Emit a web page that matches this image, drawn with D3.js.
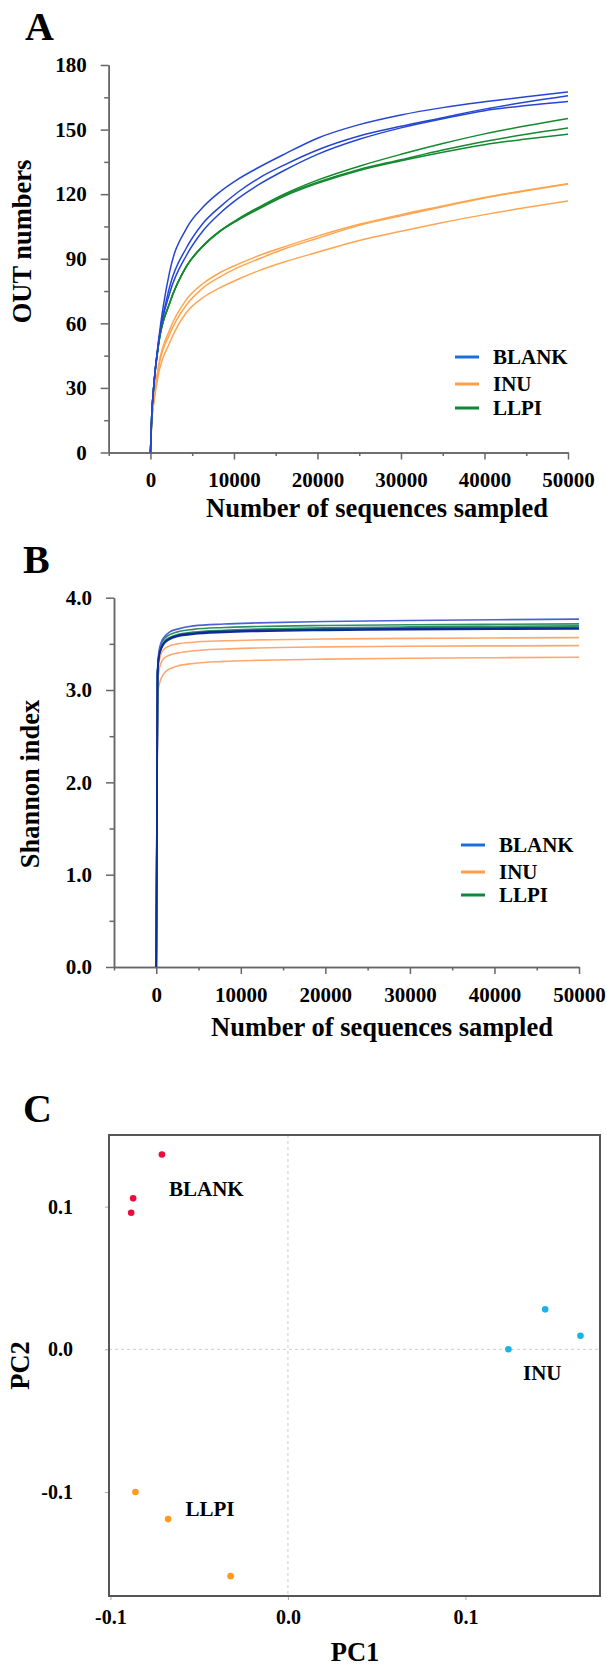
<!DOCTYPE html>
<html>
<head>
<meta charset="utf-8">
<script src="https://cdn.jsdelivr.net/npm/d3@7"></script>
<style>
  body { margin: 0; background: #fff; }
  text { font-family: "Liberation Serif", "Times New Roman", serif; font-weight: bold; fill: #000; }
</style>
</head>
<body>
<svg id="canvas" width="607" height="1667"></svg>
<script>
// ---- Données ----

let groupes = ['BLANK', 'INU', 'LLPI']

// A : nombre d'OTU selon le nombre de séquences (3 répétitions par groupe)
let sequencesA = [0, 150, 400, 1000, 2300, 4300, 6300, 8300, 10500, 13000, 16000, 20000, 25000, 30000, 35000, 40000, 45000, 50000]
let otuBlank = [
  [0, 17, 31, 53, 84, 104, 114, 121, 127, 132.5, 138.5, 146, 152.3, 156.8, 160.2, 162.9, 165.3, 167.5],
  [0, 17, 31, 52, 77, 95, 106.5, 114, 121, 127.5, 133.5, 140.5, 147, 151.5, 155.5, 159.5, 162.8, 165.7],
  [0, 17, 31, 52, 74, 91.5, 103, 111, 118, 124.5, 131, 138.5, 145.5, 150.8, 155, 158.8, 161.2, 163.1]
]
let otuInu = [
  [0, 14, 24, 41, 57, 71, 78.5, 83.5, 87.5, 91.5, 95.5, 100.5, 106, 110.5, 114.5, 118.5, 121.8, 124.9],
  [0, 14, 24, 40, 55, 68.5, 76.5, 81.5, 86, 90, 94.5, 99.5, 105.5, 110, 114.2, 118.2, 121.6, 124.7],
  [0, 14, 23, 37, 51, 65, 72, 76.5, 80.5, 84.5, 88.5, 93, 98.5, 102.8, 106.8, 110.5, 113.8, 116.8]
]
let otuLlpi = [
  [0, 17, 31, 51, 69.5, 86.5, 96, 102.8, 108.5, 114, 120, 126.5, 133, 138.5, 143.5, 148, 151.8, 155.2],
  [0, 17, 31, 51, 69.5, 86.5, 96, 102.8, 108.3, 113.5, 119.5, 125.5, 131.5, 136, 140.5, 144.5, 147.8, 150.7],
  [0, 17, 31, 51, 69.3, 86.3, 95.8, 102.6, 108, 113.2, 119, 125, 131, 135.5, 139.5, 143, 145.6, 147.9]
]

// B : indice de Shannon
let sequencesB = [0, 150, 300, 600, 1000, 1600, 2500, 4400, 8000, 12000, 20000, 30000, 40000, 50000]
let shannonBlank = [
  [0, 3.20, 3.40, 3.52, 3.58, 3.63, 3.66, 3.695, 3.715, 3.727, 3.742, 3.753, 3.761, 3.767],
  [0, 3.18, 3.36, 3.46, 3.52, 3.56, 3.59, 3.615, 3.635, 3.646, 3.657, 3.664, 3.669, 3.672],
  [0, 3.18, 3.35, 3.45, 3.51, 3.55, 3.58, 3.605, 3.625, 3.636, 3.647, 3.654, 3.659, 3.662]
]
let shannonInu = [
  [0, 3.10, 3.28, 3.40, 3.45, 3.48, 3.50, 3.518, 3.533, 3.543, 3.552, 3.559, 3.564, 3.568],
  [0, 3.06, 3.20, 3.30, 3.35, 3.38, 3.40, 3.425, 3.445, 3.456, 3.467, 3.474, 3.478, 3.481],
  [0, 2.95, 3.04, 3.13, 3.19, 3.23, 3.26, 3.288, 3.31, 3.322, 3.335, 3.344, 3.35, 3.355]
]
let shannonLlpi = [
  [0, 3.18, 3.38, 3.50, 3.56, 3.60, 3.63, 3.657, 3.677, 3.688, 3.699, 3.707, 3.712, 3.716],
  [0, 3.18, 3.36, 3.47, 3.53, 3.57, 3.60, 3.627, 3.648, 3.66, 3.674, 3.684, 3.69, 3.695],
  [0, 3.17, 3.35, 3.46, 3.52, 3.56, 3.59, 3.617, 3.638, 3.65, 3.664, 3.674, 3.68, 3.684]
]

// C : ACP
let pc1Blank = [-0.0710, -0.0872, -0.0883]
let pc2Blank = [0.1365, 0.1058, 0.0957]
let pc1Inu = [0.1449, 0.1648, 0.1242]
let pc2Inu = [0.0280, 0.0095, 0.0000]
let pc1Llpi = [-0.0859, -0.0675, -0.0323]
let pc2Llpi = [-0.1000, -0.1190, -0.1590]
// emplacement des noms de groupe (en unités PC1 / PC2)
let etiquettePc1 = [-0.0670, 0.1324, -0.0577]
let etiquettePc2 = [0.1074, -0.0215, -0.1165]

// Graduations
let ticksSeq = [0, 10000, 20000, 30000, 40000, 50000]
let ticksSeqMineurs = [-5000, 5000, 15000, 25000, 35000, 45000]
let ticksOtu = [0, 30, 60, 90, 120, 150, 180]
let ticksOtuMineurs = [15, 45, 75, 105, 135, 165]
let ticksShannon = [0, 1, 2, 3, 4]
let ticksShannonMineurs = [0.5, 1.5, 2.5, 3.5]
let ticksPc = [-0.1, 0, 0.1]

// ---- Dessin ----
let canvas = d3.select('#canvas')
canvas.append('rect').attr('width', 607).attr('height', 1667).attr('fill', '#fff')

let unDecimal = d => d.toFixed(1) // garde le tiret simple du "-0.1"

let styleAxe = (g, taille) => {
  g.selectAll('path, line').attr('stroke', '#666').attr('stroke-width', 1.5)
  g.selectAll('text').attr('font-size', taille)
}

let axes = (x, y, yMaj, yMin, fmtY) => {
  let g = canvas.append('g')
  let gy = g.append('g').attr('transform', `translate(${x.range()[0]},0)`)
  gy.append('g').call(d3.axisLeft(y).tickValues(yMin).tickSize(4.5).tickSizeOuter(0).tickFormat(''))
  gy.append('g').call(d3.axisLeft(y).tickValues(yMaj).tickSize(8).tickSizeOuter(0).tickPadding(14).tickFormat(fmtY))
  styleAxe(gy, 21)
  let gx = g.append('g').attr('transform', `translate(0,${y.range()[0]})`)
  gx.append('g').call(d3.axisBottom(x).tickValues(ticksSeqMineurs).tickSize(3.5).tickSizeOuter(0).tickFormat(''))
  gx.append('g').call(d3.axisBottom(x).tickValues(ticksSeq).tickSize(7).tickSizeOuter(0).tickPadding(13).tickFormat(d3.format('d')))
  styleAxe(gx, 21)
}

let courbes = (x, y, sequences, series, couleur, largeur) => {
  let ligne = d3.line().x((d, i) => x(sequences[i])).y(d => y(d)).curve(d3.curveMonotoneX)
  canvas.append('g').selectAll('path')
    .data(series)
    .enter()
    .append('path')
    .attr('d', ligne)
    .attr('fill', 'none')
    .attr('stroke', (d, i) => Array.isArray(couleur) ? couleur[i] : couleur)
    .attr('stroke-width', largeur)
}

let legende = (x0, y0, pas, couleurs) => {
  let g = canvas.append('g')
  groupes.forEach((nom, i) => {
    let yy = y0 + pas[i]
    g.append('line').attr('x1', x0).attr('x2', x0 + 24).attr('y1', yy).attr('y2', yy)
      .attr('stroke', couleurs[i]).attr('stroke-width', 3)
    g.append('text').attr('x', x0 + 38).attr('y', yy + 7).attr('font-size', 21).text(nom)
  })
}

let titre = (texte, x, y, taille, rotation) => {
  let t = canvas.append('text').attr('font-size', taille).attr('text-anchor', 'middle').text(texte)
  if (rotation) t.attr('transform', `translate(${x},${y}) rotate(-90)`)
  else t.attr('x', x).attr('y', y)
}

// Panneau A
let xA = d3.scaleLinear().domain([-5000, 50000]).range([108.7, 568])
let yA = d3.scaleLinear().domain([0, 180]).range([452.5, 65])
canvas.append('text').attr('x', 25).attr('y', 40).attr('font-size', 40).text('A')
axes(xA, yA, ticksOtu, ticksOtuMineurs, d3.format('d'))
courbes(xA, yA, sequencesA, otuInu, '#ffa54f', 1.5)
courbes(xA, yA, sequencesA, otuLlpi, '#14892f', 1.5)
courbes(xA, yA, sequencesA, otuBlank, '#2646d2', 1.5)
legende(455, 357, [0, 27, 51], ['#1b6fd8', '#ff9f48', '#12863a'])
titre('Number of sequences sampled', 377, 517, 26.5)
titre('OUT numbers', 31, 241.5, 26.5, true)

// Panneau B
let xB = d3.scaleLinear().domain([-5000, 50000]).range([114, 579])
let yB = d3.scaleLinear().domain([0, 4]).range([967, 597.7])
canvas.append('text').attr('x', 23).attr('y', 573).attr('font-size', 40).text('B')
axes(xB, yB, ticksShannon, ticksShannonMineurs, unDecimal)
courbes(xB, yB, sequencesB, shannonInu, '#ffa76e', 1.6)
courbes(xB, yB, sequencesB, shannonLlpi, '#2f8f64', 1.6)
courbes(xB, yB, sequencesB, shannonBlank, ['#4a62d6', '#0c2d96', '#0c2d96'], 1.7)
legende(461, 845, [0, 27, 50], ['#1b6fd8', '#ff9f48', '#12863a'])
titre('Number of sequences sampled', 382, 1036, 26.5)
titre('Shannon index', 39, 784, 26.5, true)

// Panneau C
let xC = d3.scaleLinear().domain([-0.1008, 0.1758]).range([109, 600])
let yC = d3.scaleLinear().domain([-0.1729, 0.1502]).range([1596, 1135])
canvas.append('text').attr('x', 23).attr('y', 1122).attr('font-size', 40).text('C')

let gC = canvas.append('g')
gC.append('line').attr('x1', xC(0)).attr('x2', xC(0)).attr('y1', 1135).attr('y2', 1596)
  .attr('stroke', '#d6d6d6').attr('stroke-width', 1.2).attr('stroke-dasharray', '3,3')
gC.append('line').attr('x1', 109).attr('x2', 600).attr('y1', yC(0)).attr('y2', yC(0))
  .attr('stroke', '#d6d6d6').attr('stroke-width', 1.2).attr('stroke-dasharray', '3,3')

let axeYC = gC.append('g').attr('transform', 'translate(109,0)')
  .call(d3.axisLeft(yC).tickValues(ticksPc).tickSize(4).tickSizeOuter(0).tickPadding(32).tickFormat(unDecimal))
axeYC.select('.domain').remove()
axeYC.selectAll('line').attr('stroke', '#aaa')
axeYC.selectAll('text').attr('font-size', 20)
let axeXC = gC.append('g').attr('transform', 'translate(0,1596)')
  .call(d3.axisBottom(xC).tickValues(ticksPc).tickSize(4).tickSizeOuter(0).tickPadding(10).tickFormat(unDecimal))
axeXC.select('.domain').remove()
axeXC.selectAll('line').attr('stroke', '#aaa')
axeXC.selectAll('text').attr('font-size', 20)

gC.append('rect').attr('x', 109).attr('y', 1135).attr('width', 491).attr('height', 461)
  .attr('fill', 'none').attr('stroke', '#555').attr('stroke-width', 2)

let nuages = [
  {pc1: pc1Blank, pc2: pc2Blank, couleur: '#f00a3c'},
  {pc1: pc1Inu, pc2: pc2Inu, couleur: '#19b3e6'},
  {pc1: pc1Llpi, pc2: pc2Llpi, couleur: '#ff9a1c'}
]
nuages.forEach((n, k) => {
  gC.append('g').selectAll('circle')
    .data(n.pc1)
    .enter()
    .append('circle')
    .attr('cx', d => xC(d))
    .attr('cy', (d, i) => yC(n.pc2[i]))
    .attr('r', 3.3)
    .attr('fill', n.couleur)
  gC.append('text').attr('x', xC(etiquettePc1[k])).attr('y', yC(etiquettePc2[k]))
    .attr('font-size', 21).text(groupes[k])
})

titre('PC1', 355, 1661, 26.5)
titre('PC2', 29, 1365.5, 26.5, true)
</script>
</body>
</html>
